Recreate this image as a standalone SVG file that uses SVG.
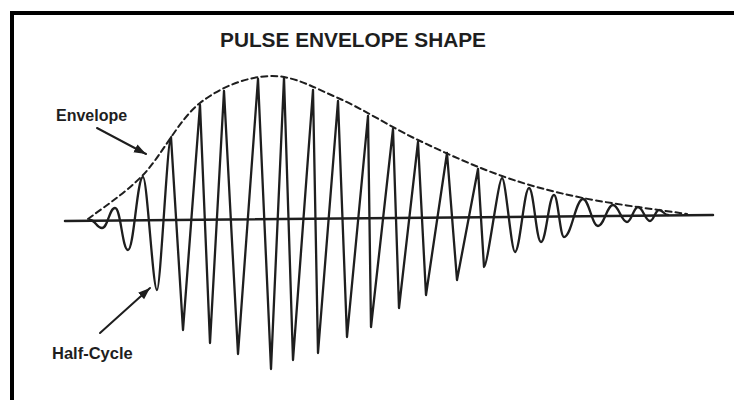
<svg xmlns="http://www.w3.org/2000/svg" width="734" height="400" viewBox="0 0 734 400">
<style>
.lbl{font-family:"Liberation Sans",Arial,sans-serif;font-weight:bold;fill:#1e1e1e}
.ink{fill:none;stroke:#1e1e1e;stroke-linejoin:round;stroke-linecap:round}
</style>
<defs>
<marker id="ah" markerUnits="userSpaceOnUse" markerWidth="13" markerHeight="10" refX="12" refY="4.5" orient="auto">
<path d="M0,0 L12,4.5 L0,9 z" fill="#1e1e1e"/>
</marker>
</defs>
<rect width="734" height="400" fill="#fff"/>
<g id="frame">
<path d="M12,400 V13 H734" fill="none" stroke="#000" stroke-width="4"/>
</g>
<g id="title">
<text class="lbl" x="353" y="47" font-size="20" text-anchor="middle" textLength="266" lengthAdjust="spacingAndGlyphs">PULSE ENVELOPE SHAPE</text>
</g>
<g id="baseline">
<path class="ink" d="M65,221 L713,215" stroke-width="2.5"/>
</g>
<g id="waveform">
<path class="ink" stroke-width="2.3" d="M90,220 C95.4,220 96.6,228 102,228 C107.9,228 109.2,208 115,208 C120.9,208 122.2,250 128,250 C134,250 137,177 143,177 C147.2,177 152.8,290 157,290 C160.5,290 167.5,137 171,137 L183,330 L200,105 L210,343 L224,91 L238,354 L258,79 L271,369 L284,78 L293,360 L313,90 L318,353 L338,101 L347,337 L368,116 L371,327 L393,129 L399,308 L418,142 L426,295 L447,153 L457,280 L478,169 L484,267 C487.6,267 498.4,178 502,178 C505.9,178 511.1,252 515,252 C519.9,252 524.1,188 529,188 C533.8,188 536.2,242 541,242 C546.2,242 548.8,195 554,195 C558,195 560,237 564,237 C571.6,237 575.4,199 583,199 C589,199 592,226 598,226 C604,226 607,205 613,205 C618.6,205 621.4,222 627,222 C631.4,222 633.6,207 638,207 C642.8,207 645.2,221 650,221 C653.6,221 655.4,210 659,210 C662.6,210 664.4,215 668,215"/>
</g>
<g id="envelope">
<path class="ink" stroke-width="2" stroke-dasharray="6 4" stroke-linecap="butt" d="M88,219 C97.2,211.7 124.3,194.3 143,175 C161.7,155.7 178.8,119.5 200,103 C221.2,86.5 247,76.8 270,76 C293,75.2 313.3,87.3 338,98 C362.7,108.7 390.7,127 418,140 C445.3,153 474.5,166.3 502,176 C529.5,185.7 552.2,191.7 583,198 C613.8,204.3 669.7,211.3 687,214"/>
</g>
<g id="envelope-label">
<text class="lbl" x="56" y="121" font-size="16">Envelope</text>
</g>
<g id="halfcycle-label">
<text class="lbl" x="52" y="359" font-size="16.5">Half-Cycle</text>
</g>
<g id="connectors">
<line class="ink" x1="97" y1="128" x2="146" y2="154" stroke-width="2" marker-end="url(#ah)"/>
<line class="ink" x1="100" y1="333" x2="150" y2="288" stroke-width="2" marker-end="url(#ah)"/>
</g>
</svg>
